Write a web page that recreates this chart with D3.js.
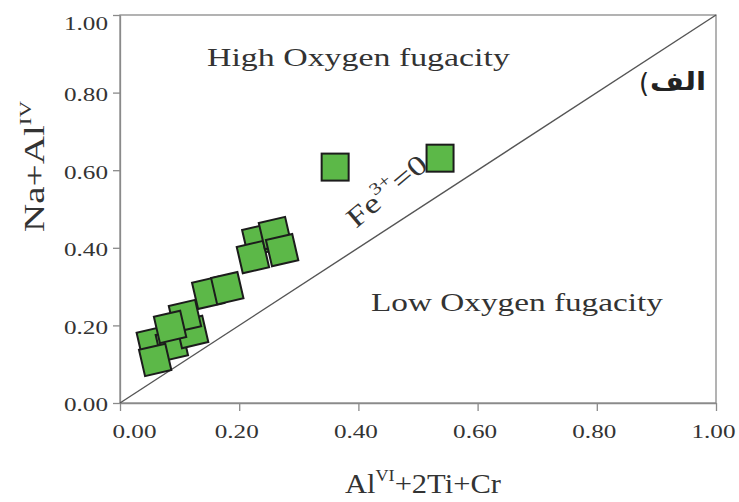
<!DOCTYPE html>
<html><head><meta charset="utf-8">
<script src="https://cdn.jsdelivr.net/npm/d3@7"></script>
<style>body{margin:0;background:#fff}</style>
</head><body>
<svg id="c" width="739" height="502"></svg>
<script>
// ---- data ----
const sampleX = [0.055, 0.087, 0.121, 0.109, 0.084, 0.059, 0.148, 0.180, 0.232, 0.223, 0.260, 0.272, 0.361, 0.537];
const sampleY = [0.155, 0.149, 0.183, 0.224, 0.196, 0.111, 0.284, 0.296, 0.420, 0.376, 0.438, 0.394, 0.608, 0.631];
const xTicks = [0, 0.2, 0.4, 0.6, 0.8, 1.0];
const yTicks = [0, 0.2, 0.4, 0.6, 0.8, 1.0];
const boundaryLine = [[0, 0], [1, 1]];

const svg = d3.select("#c");
const x = d3.scaleLinear().domain([0, 1]).range([120, 716]);
const y = d3.scaleLinear().domain([0, 1]).range([403, 15]);
const axisColor = "#8a8a8a";
const serif = "'Liberation Serif', 'Times New Roman', serif";

// frame
svg.append("rect")
  .attr("x", x(0)).attr("y", y(1))
  .attr("width", x(1) - x(0)).attr("height", y(0) - y(1))
  .attr("fill", "none").attr("stroke", axisColor).attr("stroke-width", 1.3);

// axes
const gx = svg.append("g").attr("transform", `translate(0,${y(0)})`)
  .call(d3.axisBottom(x).tickValues(xTicks).tickFormat(d3.format(".2f"))
    .tickSizeInner(8).tickSizeOuter(0).tickPadding(14));
const gy = svg.append("g").attr("transform", `translate(${x(0)},0)`)
  .call(d3.axisLeft(y).tickValues(yTicks).tickFormat(d3.format(".2f"))
    .tickSizeInner(7).tickSizeOuter(0).tickPadding(5));
[gx, gy].forEach(g => {
  g.select(".domain").attr("stroke", axisColor).attr("stroke-width", 1.3);
  g.selectAll(".tick line").attr("stroke", axisColor).attr("stroke-width", 1.3);
  g.selectAll(".tick text").attr("font-family", serif).attr("font-size", 19)
    .attr("fill", "#333").attr("textLength", 44).attr("lengthAdjust", "spacingAndGlyphs");
});
gx.selectAll(".tick text").attr("x", d => d === 0 ? 14 : -3);
gy.selectAll(".tick text").attr("dy", d => d === 1 ? "0.75em" : "0.42em");

// Fe3+ = 0 boundary line
svg.append("line")
  .attr("x1", x(boundaryLine[0][0])).attr("y1", y(boundaryLine[0][1]))
  .attr("x2", x(boundaryLine[1][0])).attr("y2", y(boundaryLine[1][1]))
  .attr("stroke", "#555").attr("stroke-width", 1.4);

// samples
const pts = sampleX.map((v, i) => ({x: v, y: sampleY[i]}));
const sq = 27;
svg.append("g").selectAll("g").data(pts).join("g")
  .attr("transform", d => `translate(${x(d.x)},${y(d.y)}) rotate(${d.x < 0.3 ? -13 : 0})`)
  .append("rect")
  .attr("x", -sq / 2).attr("y", -sq / 2).attr("width", sq).attr("height", sq)
  .attr("fill", "#5cb848").attr("stroke", "#1c1c1c").attr("stroke-width", 2);

// text helper: stretch a text to a target length along its baseline
function label(px, py, rot, target, build) {
  const outer = svg.append("g").attr("transform", `translate(${px},${py}) rotate(${rot})`);
  const inner = outer.append("g");
  const t = inner.append("text").attr("x", 0).attr("y", 0);
  build(t);
  const w = t.node().getBBox().width;
  inner.attr("transform", `scale(${target / w},1)`);
  return t;
}

label(207, 66, 0, 303, t => t.attr("font-family", serif).attr("font-size", 26).attr("fill", "#333")
  .text("High Oxygen fugacity"));
label(371, 311, 0, 292, t => t.attr("font-family", serif).attr("font-size", 26).attr("fill", "#333")
  .text("Low Oxygen fugacity"));
// panel label "(الف" : parenthesis drawn on the left, Arabic word to its right
svg.append("text").attr("x", 639).attr("y", 92)
  .attr("font-family", "'DejaVu Sans', sans-serif").attr("font-size", 26).attr("fill", "#222")
  .text("(");
label(650, 90, 0, 56, t => t.attr("font-family", "'DejaVu Sans', sans-serif").attr("font-weight", "bold")
  .attr("font-size", 25).attr("fill", "#222").text("\u0627\u0644\u0641"));

label(356, 229, -40, 96, t => {
  t.attr("font-family", serif).attr("font-size", 28).attr("fill", "#333");
  t.append("tspan").text("Fe");
  t.append("tspan").attr("font-size", 17).attr("dy", -13).text("3+");
  t.append("tspan").attr("dy", 13).text("=0");
});

label(345, 493, 0, 156, t => {
  t.attr("font-family", serif).attr("font-size", 27).attr("fill", "#333");
  t.append("tspan").text("Al");
  t.append("tspan").attr("font-size", 16).attr("dy", -12).text("VI");
  t.append("tspan").attr("dy", 12).text("+2Ti+Cr");
});

label(44, 232, -90, 132, t => {
  t.attr("font-family", serif).attr("font-size", 29).attr("fill", "#333");
  t.append("tspan").text("Na+Al");
  t.append("tspan").attr("font-size", 17).attr("dy", -13).text("IV");
});
</script>
</body></html>
